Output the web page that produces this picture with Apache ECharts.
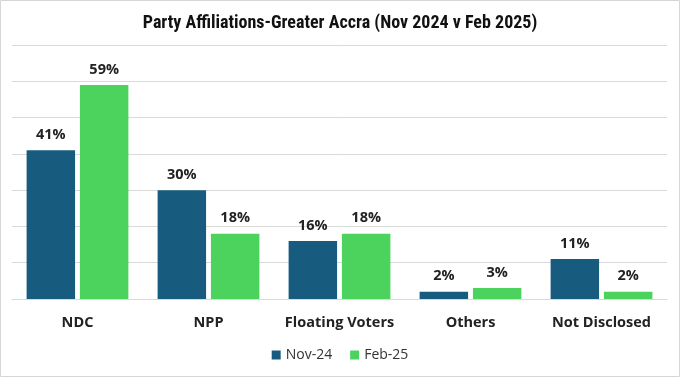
<!DOCTYPE html>
<html><head><meta charset="utf-8">
<script src="https://cdn.jsdelivr.net/npm/echarts@6/dist/echarts.min.js"></script>
<style>html,body{margin:0;padding:0;background:#fff}#c{width:680px;height:377px}</style>
</head><body><div id="c"></div>
<script>
const categories = ["NDC", "NPP", "Floating Voters", "Others", "Not Disclosed"];
const nov24 = [41, 30, 16, 2, 11];
const feb25 = [59, 18, 18, 3, 2];
const seriesNames = ["Nov-24", "Feb-25"];
const titleText = "Party Affiliations-Greater Accra (Nov 2024 v Feb 2025)";

const chart = echarts.init(document.getElementById('c'));
const lbl = {show:true, position:'top', distance:8, formatter:'{c}%', color:'#222', fontWeight:'bold', fontSize:14.5, fontFamily:'Open Sans'};
chart.setOption({
  animation:false,
  backgroundColor:'#fff',
  title:{text:titleText, left:'center', top:9, textStyle:{fontFamily:'Liberation Sans Narrow, Roboto Condensed, Roboto', fontWeight:'bold', fontSize:18, color:'#111'}},
  graphic:[{type:'rect', shape:{x:0.5,y:0.5,width:679,height:376}, style:{fill:'none', stroke:'#d6d6d6', lineWidth:1}, silent:true}],
  legend:{data:seriesNames, bottom:10, left:'center', itemWidth:9, itemHeight:9, icon:'rect', itemGap:18, textStyle:{fontFamily:'Open Sans', fontSize:14, color:'#333'}},
  grid:{left:12, right:13, top:45, bottom:78},
  xAxis:{type:'category', data:categories, axisTick:{show:false}, axisLine:{lineStyle:{color:'#d9d9d9'}},
    axisLabel:{fontFamily:'Open Sans', fontWeight:'bold', fontSize:14.5, color:'#222', margin:16, interval:0}},
  yAxis:{type:'value', min:0, max:70, interval:10, axisLabel:{show:false}, splitLine:{lineStyle:{color:'#d9d9d9'}}},
  series:[
    {name:seriesNames[0], type:'bar', data:nov24, barWidth:'37%', barGap:'10%', itemStyle:{color:'#175b7f'}, label:lbl},
    {name:seriesNames[1], type:'bar', data:feb25, barWidth:'37%', itemStyle:{color:'#4cd35e'}, label:lbl}
  ]
});
</script></body></html>
